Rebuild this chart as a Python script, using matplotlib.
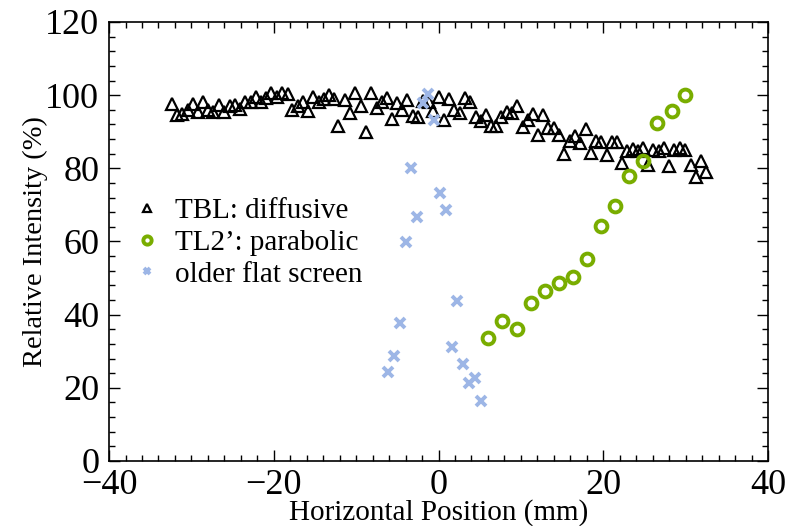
import numpy as np
import matplotlib
matplotlib.use("Agg")
import matplotlib.pyplot as plt
from matplotlib.ticker import MultipleLocator

plt.rcParams['font.family'] = ['Liberation Serif', 'DejaVu Serif']
plt.rcParams['mathtext.fontset'] = 'stix'

# TBL: diffusive (triangles)
tbl_x = [-32.39, -31.71, -31.10, -30.45, -29.84, -29.16, -28.55, -27.95, -27.34, -26.65,
         -26.00, -25.31, -24.70, -24.10, -23.49, -22.80, -22.19, -21.55, -20.94, -20.33,
         -19.64, -18.96, -18.31, -17.75, -17.09, -16.49, -15.81, -15.20, -14.51, -13.90,
         -13.29, -12.65, -12.16, -11.35, -10.74, -10.14, -9.44, -8.84, -8.19, -7.50,
         -6.89, -6.29, -5.68, -5.00, -4.40, -3.79, -3.13, -2.52, -1.85, -1.15,
         -0.63, 0.10, 0.70, 1.31, 1.92, 2.61, 3.22, 3.82, 4.52, 5.12,
         5.77, 6.34, 6.98, 7.59, 8.28, 8.87, 9.57, 10.22, 10.83, 11.51,
         12.12, 12.72, 13.33, 14.02, 14.63, 15.27, 15.96, 16.57, 17.18, 17.87,
         18.48, 19.08, 19.73, 20.42, 21.02, 21.70, 22.31, 22.92, 23.57, 24.20,
         24.86, 25.47, 26.08, 26.77, 27.38, 28.02, 28.63, 29.32, 29.92, 30.62,
         31.22, 31.83, 32.47]
tbl_y = [97.6, 94.6, 94.8, 95.9, 97.6, 95.5, 98.0, 95.9, 95.3, 97.3,
         95.3, 96.9, 97.3, 96.1, 98.2, 98.2, 99.6, 98.2, 99.3, 100.5,
         99.4, 100.5, 100.2, 95.9, 96.9, 98.2, 95.7, 99.6, 98.0, 99.0,
         100.1, 99.0, 91.6, 98.7, 95.1, 100.5, 97.0, 89.9, 100.5, 96.4,
         98.2, 99.2, 93.4, 97.8, 96.0, 98.7, 94.3, 94.0, 98.5, 98.2,
         95.8, 99.6, 93.2, 98.9, 96.0, 95.1, 99.2, 98.0, 94.0, 92.8,
         94.6, 91.6, 91.6, 94.0, 95.5, 95.1, 97.0, 91.4, 93.2, 94.9,
         89.1, 94.6, 90.9, 90.9, 89.1, 83.9, 87.5, 88.7, 87.0, 90.7,
         84.1, 87.5, 87.2, 83.7, 87.2, 87.3, 81.4, 84.7, 85.2, 84.8,
         85.5, 80.9, 85.0, 84.7, 85.6, 80.6, 85.0, 85.5, 85.0, 80.9,
         77.6, 82.1, 79.1]

# TL2': parabolic (circles)
tl2_x = [6.05, 7.75, 9.49, 11.19, 12.93, 14.63, 16.33, 18.00, 19.77, 21.43,
         23.13, 24.86, 26.56, 28.31, 29.96]
tl2_y = [33.7, 38.3, 36.0, 43.1, 46.5, 48.6, 50.3, 55.2, 64.2, 69.8,
         77.8, 82.0, 92.4, 95.6, 100.1]

# older flat screen (crosses)
old_x = [-6.09, -5.44, -4.71, -3.99, -3.34, -2.61, -1.88, -1.24, -0.51, 0.18,
         0.91, 1.60, 2.29, 2.97, 3.67, 4.39, 5.12]
old_y = [24.3, 28.7, 37.8, 59.8, 80.2, 66.8, 97.8, 100.2, 93.2, 73.2,
         68.6, 31.2, 43.7, 26.4, 21.4, 22.7, 16.3]

fig = plt.figure(figsize=(7.97, 5.26), dpi=100)
ax = fig.add_axes([0.1368, 0.1236, 0.8268, 0.8346])

ax.plot(tbl_x, tbl_y, linestyle='none', marker='^', markersize=9,
        markerfacecolor='none', markeredgecolor='black', markeredgewidth=1.6,
        label='TBL: diffusive')
ax.plot(tl2_x, tl2_y, linestyle='none', marker='o', markersize=8.5,
        markerfacecolor='none', markeredgecolor='#79ad00', markeredgewidth=2.8,
        label='TL2\u2019: parabolic')
ax.plot(old_x, old_y, linestyle='none', marker='x', markersize=6.5,
        color='#9db6e6', markeredgewidth=2.8, label='older flat screen')

ax.set_xlim(-40, 40)
ax.set_ylim(0, 120)
ax.xaxis.set_major_locator(MultipleLocator(20))
ax.xaxis.set_minor_locator(MultipleLocator(2))
ax.yaxis.set_major_locator(MultipleLocator(20))
ax.yaxis.set_minor_locator(MultipleLocator(4))
ax.tick_params(which='both', direction='in', top=True, right=True, width=1)
ax.tick_params(which='major', length=8, labelsize=26)
ax.tick_params(axis='x', which='major', pad=5.5)
ax.tick_params(axis='y', which='major', pad=7)
ax.tick_params(which='minor', length=4)
for s in ax.spines.values():
    s.set_linewidth(1.2)

ax.set_xlabel('Horizontal Position (mm)', fontsize=21)
ax.set_ylabel('Relative Intensity (%)', fontsize=20.5)
ax.xaxis.set_label_coords(0.5, -0.087)
ax.yaxis.set_label_coords(-0.093, 0.5)

ax.legend(loc='center left', bbox_to_anchor=(0.036, 0.497), frameon=False,
          fontsize=21, markerscale=0.7, handlelength=1.0, handletextpad=0.45,
          labelspacing=0.18, borderpad=0, borderaxespad=0)

fig.savefig('out.png', dpi=100)
